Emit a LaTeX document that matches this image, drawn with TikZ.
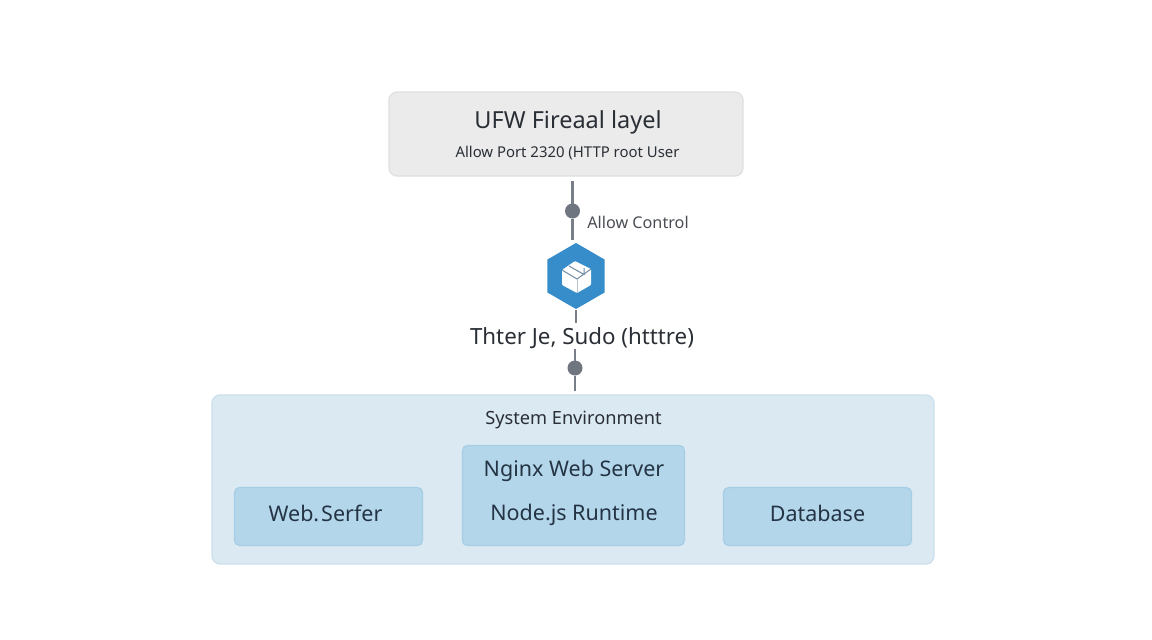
\documentclass[tikz,border=0pt]{standalone}
\usepackage{fontspec}
\setmainfont{Noto Sans}
\usetikzlibrary{shapes.geometric}
\definecolor{txt}{HTML}{2A2F36}
\definecolor{txtb}{HTML}{243444}
\definecolor{fwfill}{HTML}{EBEBEB}
\definecolor{fwline}{HTML}{DEDFDF}
\definecolor{envfill}{HTML}{DBE9F3}
\definecolor{envline}{HTML}{CBDFEC}
\definecolor{cellfill}{HTML}{B3D6EA}
\definecolor{cellline}{HTML}{A6CEE4}
\definecolor{wire}{HTML}{787F88}
\definecolor{jointgrey}{HTML}{6F7680}
\definecolor{hexblue}{HTML}{378DCA}
\definecolor{cubeline}{HTML}{6F8BA3}
\tikzset{
  x=1pt,y=-1pt,
  panel/.style={draw=#1,line width=1.2pt,rounded corners=8pt,inner sep=0pt,outer sep=0pt,anchor=north west},
  firewallbox/.style={panel=fwline,fill=fwfill,minimum width=354pt,minimum height=84pt},
  envbox/.style={panel=envline,fill=envfill,minimum width=722pt,minimum height=169pt},
  cellbox/.style={panel=cellline,fill=cellfill,rounded corners=5pt},
  wirestyle/.style={draw=wire,line width=2.2pt},
  joint/.style={circle,fill=jointgrey,minimum size=15pt,inner sep=0pt,outer sep=0pt},
  label/.style={inner sep=0pt,text=txt},
  celltext/.style={inner sep=0pt,text=txtb,font=\fontsize{21.5}{24}\selectfont},
}
\begin{document}
\begin{tikzpicture}
\useasboundingbox (0,0) rectangle (1152,640);
\fill[white] (0,0) rectangle (1152,640);
\node[firewallbox] (fw) at (389,92) {};
\node[envbox] (env) at (212,395) {};
\node[cellbox,minimum width=188pt,minimum height=58pt] (web) at (234.5,487.5) {};
\node[cellbox,minimum width=222pt,minimum height=100pt] (mid) at (462.5,445.5) {};
\node[cellbox,minimum width=188pt,minimum height=58pt] (db) at (723.5,487.5) {};

\node[label,font=\fontsize{23.5}{27}\selectfont] (fwtitle) at (568,122.5) {UFW Fireaal layel};
\node[label,font=\fontsize{14.9}{18}\selectfont] (fwsub) at (567.5,153) {Allow Port 2320 (HTTP root User};
\node[label,font=\fontsize{16.2}{19}\selectfont,text=txt!85!white] (allow) at (638,222) {Allow Control};
\node[label,font=\fontsize{22.3}{25}\selectfont] (thter) at (582,338) {Thter Je, Sudo (htttre)};
\node[label,font=\fontsize{18.2}{21}\selectfont] (sys) at (573.5,420) {System Environment};
\node[celltext] (nginx) at (574,471) {Nginx Web Server};
\node[celltext] (node) at (574,514.5) {Node.js Runtime};
\node[celltext] (webt) at (325.5,513) {Web.\hspace{2pt}Serfer};
\node[celltext] (dbt) at (817.5,513) {Database};

\node[regular polygon,regular polygon sides=6,regular polygon rotate=30,fill=hexblue,minimum size=66pt,inner sep=0pt,outer sep=0pt] (hex) at (576,276) {};
\coordinate (a0) at (572.5,181);
\coordinate (a1) at (572.5,240);
\node[joint] (j1) at (572.5,211) {};
\coordinate (b0) at (575.5,310);
\coordinate (b1) at (575.5,323);
\coordinate (c0) at (575,349);
\coordinate (c1) at (575,391);
\node[joint] (j2) at (575,368) {};
\draw[wirestyle] (a0) -- (j1);
\draw[wirestyle] (j1) -- (a1);
\draw[wirestyle,line width=2pt] (b0) -- (b1);
\draw[wirestyle] (c0) -- (j2);
\draw[wirestyle] (j2) -- (c1);

% cube icon
\coordinate (ct) at (575,261);
\coordinate (cr) at (591,269);
\coordinate (cb) at (577,293);
\coordinate (cl) at (562,270);
\coordinate (cc) at (577,279);
\fill[white,rounded corners=1pt] (ct) -- (cr) -- (591,285) -- (cb) -- (562,285) -- (cl) -- cycle;
\draw[cubeline,line width=1pt] (cl) -- (cc) -- (cr);
\draw[cubeline!50!white,line width=0.8pt] (cc) -- (cb);
\draw[cubeline,line width=1pt] (569,266) -- (584,274.5) -- (584,268);
\end{tikzpicture}
\end{document}
